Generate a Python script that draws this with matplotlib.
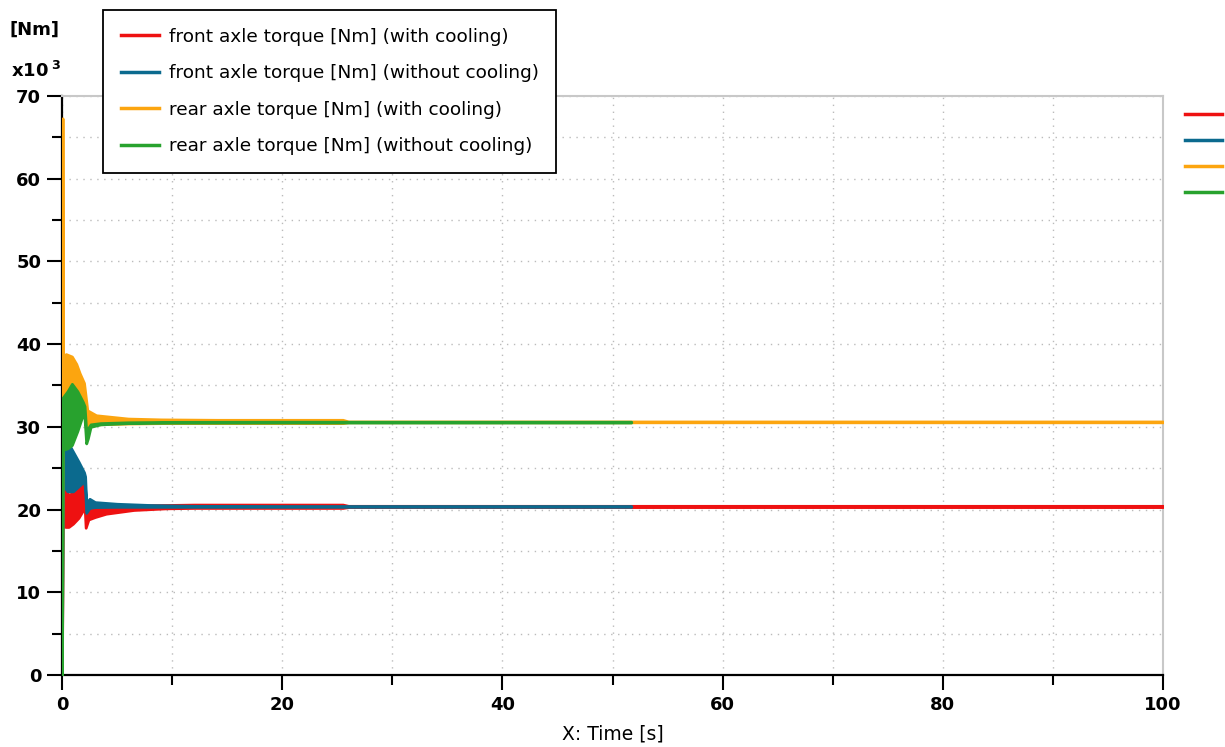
import numpy as np
import matplotlib
matplotlib.use("Agg")
import matplotlib.pyplot as plt
from matplotlib.lines import Line2D
from matplotlib.ticker import MultipleLocator

# envelope of each oscillating signal (time [s], lower / upper value [x10^3 Nm])
t_front_cool = [0, 0.05, 0.3, 0.6, 1.0, 1.5, 1.9, 2.05, 2.15, 2.4, 3, 4, 6.5, 9.5, 12, 18, 25.5, 26, 100]
front_cool_hi = [0, 22.9, 22.3, 21.8, 22.0, 22.6, 23.3, 23.5, 20.5, 20.4, 20.4, 20.45, 20.5, 20.55, 20.6, 20.6, 20.6, 20.45, 20.45]
front_cool_lo = [0, 18.2, 17.9, 17.9, 18.3, 19.0, 19.9, 20.5, 17.8, 18.8, 19.1, 19.5, 19.95, 20.15, 20.2, 20.2, 20.2, 20.3, 20.3]

t_front_nocool = [0, 0.05, 0.5, 1.0, 1.5, 2.0, 2.1, 2.2, 2.5, 3, 5, 8, 12, 20, 51.7]
front_nocool_hi = [0, 27.3, 28.2, 27.0, 25.8, 24.5, 24.0, 20.8, 21.3, 20.9, 20.7, 20.55, 20.45, 20.42, 20.42]
front_nocool_lo = [0, 23.0, 22.2, 22.2, 22.8, 23.4, 22.5, 19.6, 20.2, 20.3, 20.33, 20.33, 20.33, 20.33, 20.33]

t_rear_cool = [0, 0.05, 0.1, 0.35, 0.9, 1.3, 1.6, 2.0, 2.3, 3.1, 6, 9, 14, 25.5, 26, 100]
rear_cool_hi = [0, 67.3, 38.0, 38.8, 38.5, 37.6, 36.5, 35.3, 32.0, 31.4, 31.0, 30.9, 30.85, 30.85, 30.65, 30.65]
rear_cool_lo = [0, 33.5, 33.5, 33.6, 34.0, 33.4, 32.5, 31.5, 30.2, 30.3, 30.4, 30.45, 30.45, 30.45, 30.55, 30.55]

t_rear_nocool = [0, 0.05, 0.5, 0.9, 1.4, 1.9, 2.05, 2.2, 2.35, 2.6, 3.5, 6, 10, 20, 51.7]
rear_nocool_hi = [0, 33.5, 34.3, 35.2, 34.3, 33.0, 32.5, 29.5, 29.8, 30.3, 30.45, 30.55, 30.6, 30.62, 30.62]
rear_nocool_lo = [0, 27.2, 27.4, 27.8, 29.5, 31.5, 31.0, 28.0, 28.6, 30.0, 30.3, 30.45, 30.5, 30.52, 30.52]

labels = ["front axle torque [Nm] (with cooling)",
          "front axle torque [Nm] (without cooling)",
          "rear axle torque [Nm] (with cooling)",
          "rear axle torque [Nm] (without cooling)"]
colors = ["#ee1111", "#0b6a8e", "#fca50f", "#28a22e"]

fig = plt.figure(figsize=(12.25, 7.47), dpi=100)
ax = fig.add_axes([0.0506, 0.0964, 0.8988, 0.7751])

series = [(t_front_cool, front_cool_lo, front_cool_hi),
          (t_front_nocool, front_nocool_lo, front_nocool_hi),
          (t_rear_cool, rear_cool_lo, rear_cool_hi),
          (t_rear_nocool, rear_nocool_lo, rear_nocool_hi)]
for i, (t, lo, hi) in enumerate(series):
    ax.fill_between(t, lo, hi, facecolor=colors[i], edgecolor=colors[i],
                    linewidth=2.0, zorder=3 + i)

ax.set_xlim(0, 100)
ax.set_ylim(0, 70)
ax.xaxis.set_major_locator(MultipleLocator(20))
ax.xaxis.set_minor_locator(MultipleLocator(10))
ax.yaxis.set_major_locator(MultipleLocator(10))
ax.yaxis.set_minor_locator(MultipleLocator(5))
ax.grid(which="both", linestyle=(0, (1, 4)), color="#bbbbbb", linewidth=1.0)
ax.set_axisbelow(True)

ax.tick_params(which="major", direction="out", length=11, width=1.5, color="black",
               labelsize=13, pad=4)
ax.tick_params(which="minor", direction="out", length=7, width=1.5, color="black")
for lab in ax.get_xticklabels() + ax.get_yticklabels():
    lab.set_fontweight("bold")

for s in ["left", "bottom"]:
    ax.spines[s].set_linewidth(1.6)
    ax.spines[s].set_color("black")
for s in ["top", "right"]:
    ax.spines[s].set_linewidth(1.5)
    ax.spines[s].set_color("#c8c8c8")

ax.set_xlabel("X: Time [s]", fontsize=13.5, labelpad=8)

fig.text(0.008, 0.96, "[Nm]", fontsize=13, fontweight="bold", va="center")
fig.text(0.009, 0.905, r"x10$^{\ \mathbf{3}}$", fontsize=13, fontweight="bold", va="center")

handles = [Line2D([], [], color=c, linewidth=2.5) for c in colors]
leg = fig.legend(handles, labels, loc="upper left", bbox_to_anchor=(0.0841, 0.9866),
                 fontsize=13.3, frameon=True, fancybox=False, framealpha=1,
                 edgecolor="black", labelspacing=1.0, handlelength=2.1,
                 handletextpad=0.5, borderpad=0.95, borderaxespad=0)
leg.get_frame().set_linewidth(1.3)

# small colour keys on the right side
fig.legend(handles, [" "] * 4, loc="upper left", bbox_to_anchor=(0.9673, 0.8554),
           fontsize=10, frameon=False, labelspacing=0.85, handlelength=2.66,
           handletextpad=0.1, borderpad=0, borderaxespad=0)

fig.savefig("out.png", dpi=100)
